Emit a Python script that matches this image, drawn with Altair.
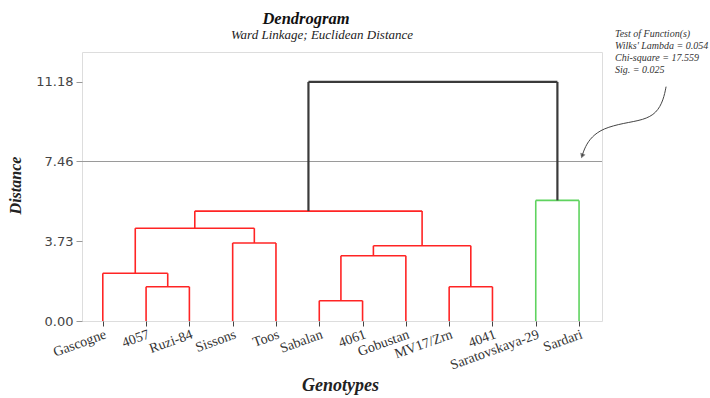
import altair as alt
import pandas as pd

# ---- data ----
leaves = ["Gascogne", "4057", "Ruzi-84", "Sissons", "Toos", "Sabalan", "4061",
          "Gobustan", "MV17/Zrn", "4041", "Saratovskaya-29", "Sardari"]
# linkage: node ids 0..11 are leaves, 12+ are merges in order
merge_left = [1, 0, 3, 13, 5, 16, 8, 17, 15, 10, 20]
merge_right = [2, 12, 4, 14, 6, 7, 9, 18, 19, 11, 21]
merge_height = [1.60, 2.23, 3.65, 4.34, 0.95, 3.05, 1.60, 3.52, 5.14, 5.64, 11.18]
merge_group = ["red", "red", "red", "red", "red", "red", "red", "red", "red", "green", "top"]
y_ticks = [0.0, 3.73, 7.46, 11.18]
cut_level = [7.46]
title_text = "Dendrogram"
subtitle_text = "Ward Linkage; Euclidean Distance"
note_lines = ["Test of Function(s)", "Wilks' Lambda = 0.054",
              "Chi-square = 17.559", "Sig. = 0.025"]
arrow_x = [13.01, 12.95, 12.79, 12.49, 12.02, 11.56, 11.29, 11.14, 11.07]
arrow_y = [10.96, 10.34, 9.72, 9.40, 9.25, 9.01, 8.62, 8.15, 7.72]

# ---- build link segments ----
pos = {i: float(i) for i in range(len(leaves))}
hgt = {i: 0.0 for i in range(len(leaves))}
rows = []
for k, (a, b, h, g) in enumerate(zip(merge_left, merge_right, merge_height, merge_group)):
    node = len(leaves) + k
    xa, xb = pos[a], pos[b]
    rows.append(dict(x=xa, x2=xa, y=hgt[a], y2=h, g=g))
    rows.append(dict(x=xb, x2=xb, y=hgt[b], y2=h, g=g))
    rows.append(dict(x=xa, x2=xb, y=h, y2=h, g=g))
    pos[node] = (xa + xb) / 2
    hgt[node] = h
seg = pd.DataFrame(rows)

label_expr = "[" + ",".join("'" + s + "'" for s in leaves) + "][datum.value]"

xscale = alt.Scale(domain=[-0.48, 11.53], nice=False, zero=False)
yscale = alt.Scale(domain=[0, 12.58], nice=False)
SERIF = "Liberation Serif"

color_scale = alt.Scale(domain=["red", "green", "top"],
                        range=["#ff2424", "#5fd35f", "#3a3a3a"])

links = alt.Chart(seg).mark_rule().encode(
    x=alt.X("x:Q", scale=xscale, axis=alt.Axis(
        values=list(range(len(leaves))), labelExpr=label_expr,
        title="Genotypes", titleFont=SERIF, titleFontSize=18, titleFontStyle="italic",
        titleFontWeight="bold", titleColor="#222", titleX=258, titleY=69,
        titleBaseline="alphabetic", titleAnchor="middle",
        labelAngle=340, labelAlign="right", labelBaseline="top", labelFont=SERIF,
        labelFontSize=14, labelColor="#333", labelPadding=1, tickSize=5,
        tickColor="#444", domain=False, grid=False, labelOverlap=False)),
    x2="x2:Q",
    y=alt.Y("y:Q", scale=yscale, axis=alt.Axis(
        values=y_ticks, format=".2f", title="Distance", titleFont=SERIF,
        titleFontSize=16, titleFontStyle="italic", titleFontWeight="bold",
        titleColor="#222", titleX=-67, titleY=133, titleBaseline="middle",
        titleAngle=270, labelFont="DejaVu Sans", labelFontSize=13, labelColor="#444",
        labelPadding=3, tickSize=6, tickColor="#999", domain=False, grid=False)),
    y2="y2:Q",
    color=alt.Color("g:N", scale=color_scale, legend=None),
    strokeWidth=alt.condition("datum.g == 'top'", alt.value(2.2), alt.value(1.6)),
)

cut = alt.Chart(pd.DataFrame({"y": cut_level})).mark_rule(
    color="#9a9a9a", strokeWidth=1.2).encode(y=alt.Y("y:Q", scale=yscale))

arrow_df = pd.DataFrame({"x": arrow_x, "y": arrow_y, "o": range(len(arrow_x))})
arrow = alt.Chart(arrow_df).mark_line(
    color="#444", strokeWidth=1, interpolate="basis", clip=False).encode(
    x=alt.X("x:Q", scale=xscale), y=alt.Y("y:Q", scale=yscale), order="o:O")
head = alt.Chart(arrow_df.tail(1)).mark_point(
    shape="triangle-down", filled=True, color="#333", size=30, angle=20,
    clip=False).encode(x=alt.X("x:Q", scale=xscale), y=alt.Y("y:Q", scale=yscale))

note = alt.Chart(pd.DataFrame({"a": [0]})).mark_text(
    align="left", baseline="top", font=SERIF, fontSize=10, fontStyle="italic",
    color="#333", lineHeight=12).encode(
    x=alt.value(533), y=alt.value(-23), text=alt.value(note_lines))

subtitle = alt.Chart(pd.DataFrame({"a": [0]})).mark_text(
    align="center", baseline="alphabetic", font=SERIF, fontSize=13,
    fontStyle="italic", color="#222").encode(
    x=alt.value(240), y=alt.value(-13), text=alt.value(subtitle_text))

title = alt.Chart(pd.DataFrame({"a": [0]})).mark_text(
    align="center", baseline="alphabetic", font=SERIF, fontSize=16.5,
    fontStyle="italic", fontWeight="bold", color="#111").encode(
    x=alt.value(224), y=alt.value(-28), text=alt.value(title_text))

chart = alt.layer(cut, links, arrow, head, note, subtitle, title).properties(
    width=520, height=269,
    autosize=alt.AutoSizeParams(type="none"),
    padding={"left": 82, "top": 52, "right": 108, "bottom": 77},
).configure_view(stroke="#999", strokeWidth=1.2).configure(background="white")

chart.save("out.html", embed_options={"renderer": "svg", "actions": False})
